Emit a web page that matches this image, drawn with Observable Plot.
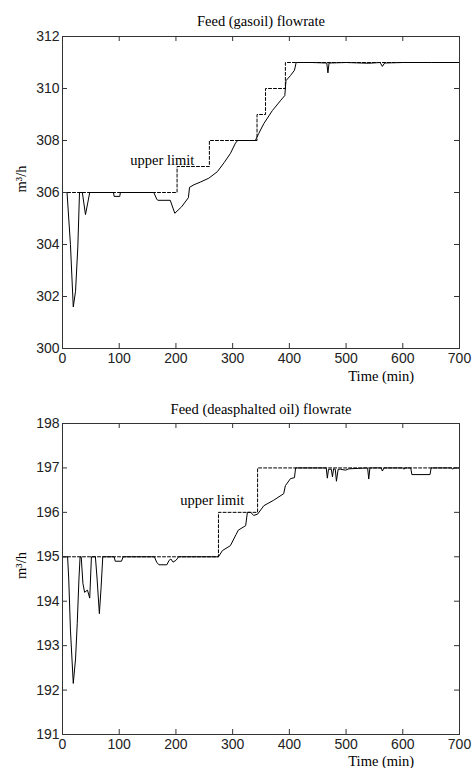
<!DOCTYPE html>
<html><head><meta charset="utf-8">
<script src="https://cdn.jsdelivr.net/npm/d3@7"></script>
<script src="https://cdn.jsdelivr.net/npm/@observablehq/plot@0.6"></script>
<style>body{margin:0;background:#fff} svg{display:block}</style>
</head><body><div id="c"></div><script>
const xTicks = [0, 100, 200, 300, 400, 500, 600, 700];

// Panel 1: Feed (gasoil) flowrate
const gasTitle = "Feed (gasoil) flowrate";
const gasYTicks = [300, 302, 304, 306, 308, 310, 312];
const gasTime = [0, 8, 14, 19, 23, 27, 30, 35, 40.5, 44.5, 48, 90, 91, 101, 102, 161, 166, 168, 190, 198, 210, 222, 224, 232, 243, 258, 273, 285, 296, 305, 309, 340, 346, 355, 370, 385, 392, 394, 402, 409, 412, 440, 466, 468, 470, 500, 540, 560, 564, 568, 600, 650, 700];
const gasFlow = [306, 306, 304.0, 301.6, 302.2, 303.9, 306, 306, 305.15, 305.6, 306, 306, 305.85, 305.85, 306, 306, 305.75, 305.7, 305.7, 305.2, 305.45, 305.8, 306.2, 306.3, 306.4, 306.55, 306.8, 307.15, 307.5, 307.9, 308, 308, 308.27, 308.65, 309.15, 309.55, 309.73, 310.3, 310.5, 310.7, 311, 311, 310.98, 310.6, 310.98, 311, 310.97, 311, 310.85, 310.98, 311, 311, 311];
const gasLimitTime = [0, 202, 259, 343, 358, 393, 700];
const gasLimitValue = [306, 307, 308, 309, 310, 311, 311];

// Panel 2: Feed (deasphalted oil) flowrate
const daoTitle = "Feed (deasphalted oil) flowrate";
const daoYTicks = [191, 192, 193, 194, 195, 196, 197, 198];
const daoTime = [0, 9, 11, 14, 19, 23, 26, 29, 31, 33, 36, 39, 44, 48, 51, 58, 61, 65, 68, 71, 91, 93, 104, 107, 162, 166, 170, 184, 188, 191, 195, 200, 205, 275, 282, 296, 302, 306, 310, 323, 326, 332, 337, 344, 355, 372, 390, 393, 402, 409, 411, 465, 467, 469, 474, 476, 478, 481, 483, 486, 490, 499, 505, 538, 540, 542, 562, 564, 567, 600, 602, 604, 614, 616, 648, 650, 686, 688, 690, 700];
const daoFlow = [195, 195, 194.5, 193.35, 192.15, 192.7, 193.5, 194.5, 195, 195, 194.4, 194.2, 194.25, 194.07, 195, 195, 194.5, 193.72, 194.3, 195, 195, 194.9, 194.9, 195, 195, 194.88, 194.82, 194.82, 194.92, 194.95, 194.88, 194.92, 195, 195, 195.14, 195.25, 195.4, 195.5, 195.6, 195.7, 196.0, 196.0, 195.93, 195.96, 196.15, 196.27, 196.42, 196.6, 196.76, 196.78, 197, 197, 196.77, 196.97, 196.97, 196.8, 196.98, 196.97, 196.7, 196.97, 196.97, 196.95, 196.98, 197, 196.75, 197, 197, 196.93, 197, 197, 196.97, 197, 197, 196.85, 196.85, 197, 197, 196.97, 197, 197];
const daoLimitTime = [0, 275, 344, 700];
const daoLimitValue = [195, 196, 197, 197];

const noteText = "upper limit";
const xLabel = "Time (min)";
const yLabel = "m³/h";

const serif = "'Liberation Serif', 'Times New Roman', serif";
const sans = "'Liberation Sans', Arial, sans-serif";
const W = 475, ML = 62, MR = 16, TICK = 5;

function panel(o) {
  const series = o.time.map((t, i) => ({t, v: o.flow[i]}));
  const limit = o.limT.map((t, i) => ({t, v: o.limV[i]}));
  const yMin = o.yTicks[0], yMax = o.yTicks[o.yTicks.length - 1];
  const fh = o.height - o.marginTop - o.marginBottom;
  const fw = W - ML - MR;
  const tickStyle = {stroke: "#333", strokeWidth: 1};
  return Plot.plot({
    width: W,
    height: o.height,
    marginLeft: ML,
    marginRight: MR,
    marginTop: o.marginTop,
    marginBottom: o.marginBottom,
    style: {fontFamily: sans, fontSize: "14px", color: "#222", background: "#fff", overflow: "visible"},
    x: {domain: [0, 700], ticks: xTicks},
    y: {domain: [yMin, yMax], ticks: o.yTicks},
    marks: [
      Plot.line(limit, {x: "t", y: "v", curve: "step-after", stroke: "#000", strokeWidth: 1, strokeDasharray: "3,2"}),
      Plot.line(series, {x: "t", y: "v", stroke: "#000", strokeWidth: 1}),
      Plot.axisX({anchor: "bottom", ticks: xTicks, tickSize: 0, tickPadding: 5, fontSize: 14, label: null, tickFormat: d3.format("d")}),
      Plot.axisY({anchor: "left", ticks: o.yTicks, tickSize: 0, tickPadding: 3, fontSize: 14, label: null, tickFormat: d3.format("d")}),
      // inward ticks on all four sides
      Plot.ruleX(xTicks, {x: d => d, insetTop: fh - TICK, ...tickStyle}),
      Plot.ruleX(xTicks, {x: d => d, insetBottom: fh - TICK, ...tickStyle}),
      Plot.ruleY(o.yTicks, {y: d => d, insetRight: fw - TICK, ...tickStyle}),
      Plot.ruleY(o.yTicks, {y: d => d, insetLeft: fw - TICK, ...tickStyle}),
      Plot.frame({stroke: "#333"}),
      Plot.text([o.title], {frameAnchor: "top", dy: o.titleDy, lineAnchor: "bottom", fontFamily: serif, fontSize: 14.5, fill: "#000"}),
      Plot.text([noteText], {x: () => o.noteX, y: () => o.noteY, lineAnchor: "middle", fontFamily: serif, fontSize: 14.5, fill: "#000"}),
      Plot.text([xLabel], {x: () => 562, frameAnchor: "bottom", dy: o.xLabelDy, lineAnchor: "bottom", fontFamily: serif, fontSize: 14.5, fill: "#000"}),
      Plot.text([yLabel], {frameAnchor: "left", dx: -37, rotate: -90, lineAnchor: "bottom", fontFamily: serif, fontSize: 14.5, fill: "#000"})
    ]
  });
}

const c = document.getElementById("c");
c.append(panel({title: gasTitle, time: gasTime, flow: gasFlow, limT: gasLimitTime, limV: gasLimitValue,
  yTicks: gasYTicks, height: 384, marginTop: 36, marginBottom: 36, titleDy: -11, xLabelDy: 32, noteX: 176, noteY: 307.25}));
c.append(panel({title: daoTitle, time: daoTime, flow: daoFlow, limT: daoLimitTime, limV: daoLimitValue,
  yTicks: daoYTicks, height: 384, marginTop: 39, marginBottom: 34, titleDy: -10, xLabelDy: 31, noteX: 264, noteY: 196.28}));
</script></body></html>
